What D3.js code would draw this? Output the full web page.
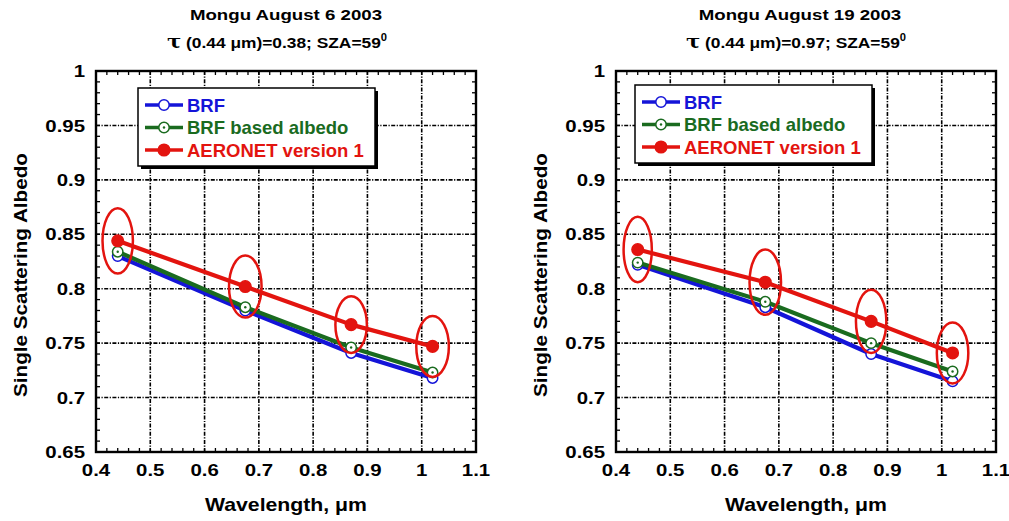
<!DOCTYPE html>
<html><head><meta charset="utf-8">
<script src="https://cdn.jsdelivr.net/npm/d3@7"></script>
<style>
html,body{margin:0;padding:0;background:#fff;}
svg text{font-family:"Liberation Sans",Arial,sans-serif;font-weight:bold;}
</style></head>
<body><svg id="chart" width="1009" height="521"></svg>
<script>
// ---- data ----
const wavelengths = [0.44, 0.675, 0.87, 1.02];
const aug6Brf        = [0.830, 0.780, 0.741, 0.718];
const aug6BrfAlbedo  = [0.834, 0.783, 0.746, 0.723];
const aug6Aeronet    = [0.844, 0.802, 0.767, 0.747];
const aug6ErrX       = [0.028, 0.030, 0.029, 0.030];
const aug6ErrY       = [0.030, 0.0285, 0.026, 0.028];
const aug19Brf       = [0.822, 0.783, 0.740, 0.715];
const aug19BrfAlbedo = [0.824, 0.788, 0.750, 0.724];
const aug19Aeronet   = [0.836, 0.806, 0.770, 0.741];
const aug19ErrX      = [0.026, 0.029, 0.028, 0.029];
const aug19ErrY      = [0.030, 0.030, 0.029, 0.028];
const xTicks = [0.4, 0.5, 0.6, 0.7, 0.8, 0.9, 1.0, 1.1];
const xTickLabels = ["0.4", "0.5", "0.6", "0.7", "0.8", "0.9", "1", "1.1"];
const yTicks = [0.65, 0.7, 0.75, 0.8, 0.85, 0.9, 0.95, 1.0];
const yTickLabels = ["0.65", "0.7", "0.75", "0.8", "0.85", "0.9", "0.95", "1"];
const seriesNames = ["BRF", "BRF based albedo", "AERONET version 1"];
const titles1 = ["Mongu August 6 2003", "Mongu August 19 2003"];
const tauValues = ["0.38", "0.97"];

// ---- layout ----
const svg = d3.select("#chart");
const colors = ["#1414d8", "#1a6b1f", "#e3140f"];
const panels = [
  {left: 96, data: [aug6Brf, aug6BrfAlbedo, aug6Aeronet], ex: aug6ErrX, ey: aug6ErrY,
   t1x: 286, t2x: 277, legend: {x: 138, y: 88}},
  {left: 616, data: [aug19Brf, aug19BrfAlbedo, aug19Aeronet], ex: aug19ErrX, ey: aug19ErrY,
   t1x: 800, t2x: 796, legend: {x: 635, y: 85}}
];
const plotTop = 71, plotBottom = 452, pw = 380;

// horizontally stretch a text element about its anchor point
function stretch(sel, sx) {
  sel.each(function () {
    const t = d3.select(this);
    const x = +t.attr("x") || 0, y = +t.attr("y") || 0;
    t.attr("transform", `translate(${x},${y}) scale(${sx},1) translate(${-x},${-y})`);
  });
}

panels.forEach((p, pi) => {
  const x = d3.scaleLinear().domain([0.4, 1.1]).range([p.left, p.left + pw]);
  const y = d3.scaleLinear().domain([0.65, 1.0]).range([plotBottom, plotTop]);
  const g = svg.append("g");

  // titles
  g.append("text").attr("x", p.t1x).attr("y", 20).attr("text-anchor", "middle")
    .style("font-size", "15px").text(titles1[pi]).call(stretch, 1.245);
  const t2 = g.append("text").attr("x", p.t2x).attr("y", 48).attr("text-anchor", "middle")
    .style("font-size", "15.5px");
  t2.append("tspan").style("font-size", "19px").style("font-family", "'DejaVu Serif',serif").text("τ");
  t2.append("tspan").text(" (0.44 μm)=" + tauValues[pi] + "; SZA=59");
  t2.append("tspan").attr("dy", -7).style("font-size", "10px").text("0");
  t2.call(stretch, 1.12);

  // grid
  const grid = g.append("g").attr("stroke", "#000").attr("stroke-width", 1.6)
    .attr("stroke-dasharray", "4,1.5,1.2,1.5");
  grid.selectAll(".gx").data(xTicks.slice(1, -1)).enter().append("line")
    .attr("x1", d => x(d)).attr("x2", d => x(d)).attr("y1", plotTop).attr("y2", plotBottom);
  grid.selectAll(".gy").data(yTicks.slice(1, -1)).enter().append("line")
    .attr("y1", d => y(d)).attr("y2", d => y(d)).attr("x1", p.left).attr("x2", p.left + pw);

  // minor ticks
  const minorX = d3.range(0.4, 1.1001, 0.02);
  const minorY = d3.range(0.65, 1.0001, 0.01);
  const tk = g.append("g").attr("stroke", "#000").attr("stroke-width", 1.3);
  minorX.forEach(v => {
    tk.append("line").attr("x1", x(v)).attr("x2", x(v)).attr("y1", plotBottom).attr("y2", plotBottom - 4);
    tk.append("line").attr("x1", x(v)).attr("x2", x(v)).attr("y1", plotTop).attr("y2", plotTop + 4);
  });
  minorY.forEach(v => {
    tk.append("line").attr("y1", y(v)).attr("y2", y(v)).attr("x1", p.left).attr("x2", p.left + 4);
    tk.append("line").attr("y1", y(v)).attr("y2", y(v)).attr("x1", p.left + pw).attr("x2", p.left + pw - 4);
  });

  // frame
  g.append("rect").attr("x", p.left).attr("y", plotTop).attr("width", pw).attr("height", plotBottom - plotTop)
    .attr("fill", "none").attr("stroke", "#000").attr("stroke-width", 2.4);

  // tick labels
  g.selectAll(".xl").data(xTicks).enter().append("text")
    .attr("x", d => x(d)).attr("y", 476).attr("text-anchor", "middle")
    .style("font-size", "17px").text((d, i) => xTickLabels[i]).call(stretch, 1.2);
  g.selectAll(".yl").data(yTicks).enter().append("text")
    .attr("x", p.left - 11).attr("y", d => y(d)).attr("dy", "0.36em").attr("text-anchor", "end")
    .style("font-size", "17px").text((d, i) => yTickLabels[i]).call(stretch, 1.2);

  // axis titles
  g.append("text").attr("x", p.left + pw / 2).attr("y", 511).attr("text-anchor", "middle")
    .style("font-size", "18px").text("Wavelength, μm").call(stretch, 1.18);
  g.append("g").attr("transform", `translate(${p.left - 69},275) rotate(-90)`)
    .append("text").attr("x", 0).attr("y", 0)
    .attr("text-anchor", "middle").style("font-size", "18px").text("Single Scattering Albedo")
    .call(stretch, 1.15);

  // series
  const line = d3.line().x((d, i) => x(wavelengths[i])).y(d => y(d));
  p.data.forEach((vals, si) => {
    const sg = g.append("g");
    sg.append("path").datum(vals).attr("d", line).attr("fill", "none")
      .attr("stroke", colors[si]).attr("stroke-width", 4.2).attr("stroke-linejoin", "round");
    sg.selectAll("circle.m").data(vals).enter().append("circle")
      .attr("cx", (d, i) => x(wavelengths[i])).attr("cy", d => y(d))
      .attr("r", si === 2 ? 5.8 : 5.2)
      .attr("fill", si === 2 ? colors[si] : "#fff")
      .attr("stroke", colors[si]).attr("stroke-width", 1.5);
    if (si === 1) {
      sg.selectAll("circle.d").data(vals).enter().append("circle")
        .attr("cx", (d, i) => x(wavelengths[i])).attr("cy", d => y(d))
        .attr("r", 1.2).attr("fill", colors[si]);
    }
  });

  // uncertainty ellipses around AERONET
  const aer = p.data[2];
  g.selectAll("ellipse").data(aer).enter().append("ellipse")
    .attr("cx", (d, i) => x(wavelengths[i])).attr("cy", d => y(d))
    .attr("rx", (d, i) => x(wavelengths[i] + p.ex[i]) - x(wavelengths[i]))
    .attr("ry", (d, i) => y(d) - y(d + p.ey[i]))
    .attr("fill", "none").attr("stroke", colors[2]).attr("stroke-width", 2.5);

  // legend
  const L = p.legend, lw = 237, lh = 78;
  g.append("rect").attr("x", L.x + 3).attr("y", L.y + 3).attr("width", lw).attr("height", lh).attr("fill", "#000");
  g.append("rect").attr("x", L.x).attr("y", L.y).attr("width", lw).attr("height", lh)
    .attr("fill", "#fff").attr("stroke", "#000").attr("stroke-width", 1.5);
  seriesNames.forEach((name, si) => {
    const yy = L.y + 17 + si * 22.5;
    g.append("line").attr("x1", L.x + 7).attr("x2", L.x + 45).attr("y1", yy).attr("y2", yy)
      .attr("stroke", colors[si]).attr("stroke-width", 3.5);
    g.append("circle").attr("cx", L.x + 26).attr("cy", yy).attr("r", si === 2 ? 5.8 : 5.2)
      .attr("fill", si === 2 ? colors[si] : "#fff").attr("stroke", colors[si]).attr("stroke-width", 1.5);
    if (si === 1) g.append("circle").attr("cx", L.x + 26).attr("cy", yy).attr("r", 1.2).attr("fill", colors[si]);
    g.append("text").attr("x", L.x + 49).attr("y", yy).attr("dy", "0.36em")
      .style("font-size", "18.5px").attr("fill", colors[si]).text(name);
  });
});
</script></body></html>
